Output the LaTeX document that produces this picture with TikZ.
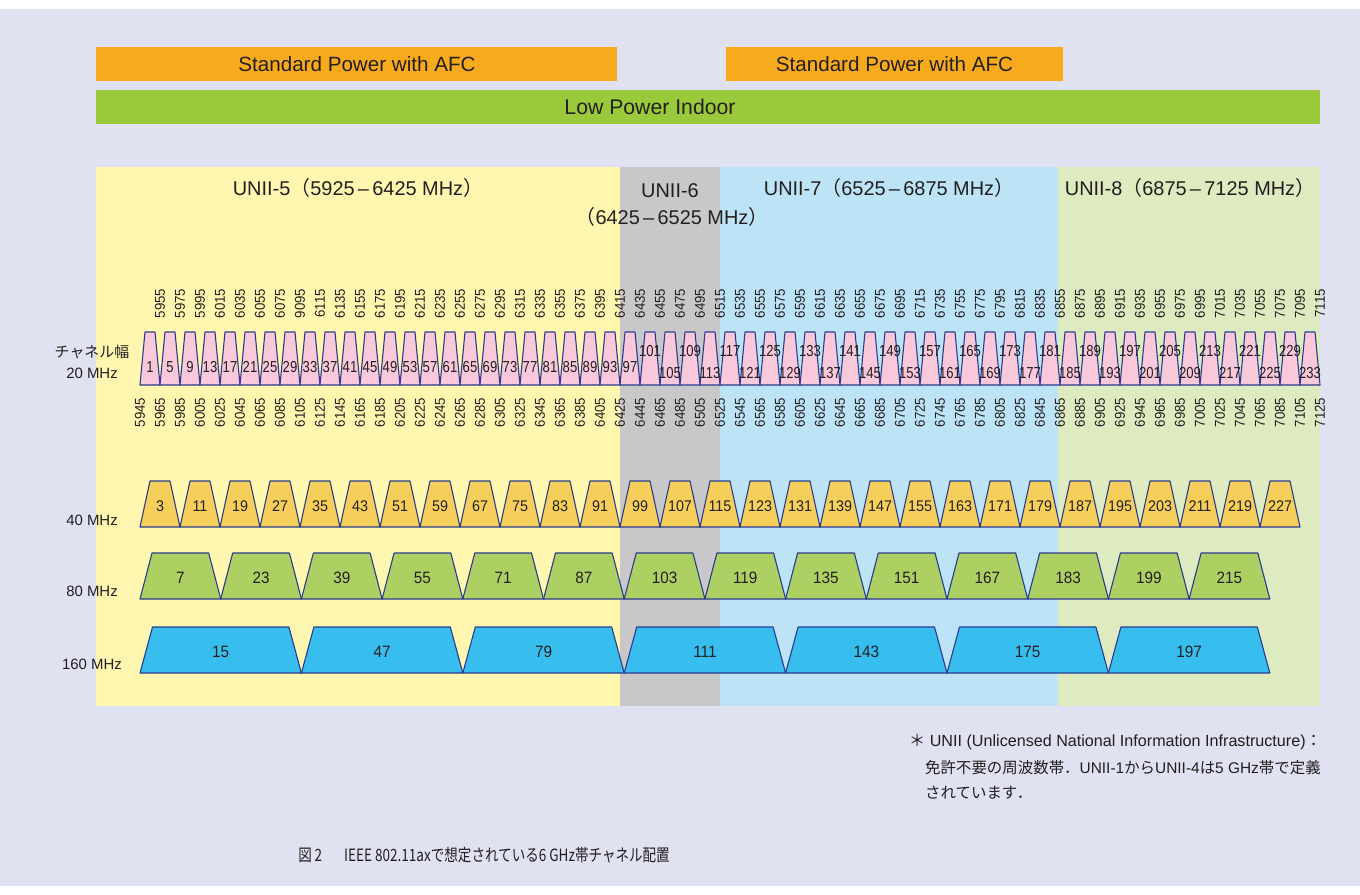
\documentclass[tikz,border=0pt]{standalone}
\usepackage{fontspec}
\setmainfont{Liberation Sans}
\newfontfamily\jp{Noto Sans CJK JP}
\newfontfamily\jpcond[FakeStretch=0.8]{Noto Sans CJK JP}
\newfontfamily\nA[FakeStretch=0.82]{Liberation Sans}
\newfontfamily\nB[FakeStretch=0.93]{Liberation Sans}
\definecolor{lav}{HTML}{E0E1F1}
\definecolor{bandY}{HTML}{FFF7B0}
\definecolor{bandG}{HTML}{C8C8CA}
\definecolor{bandB}{HTML}{BDE3F7}
\definecolor{bandL}{HTML}{DEEAC0}
\definecolor{barO}{HTML}{F8AA1D}
\definecolor{barG}{HTML}{9ACA3C}
\definecolor{outl}{HTML}{2A3B8F}
\definecolor{fPink}{HTML}{F9C8DA}
\definecolor{fYel}{HTML}{F5CF5A}
\definecolor{fGrn}{HTML}{ADD062}
\definecolor{fBlu}{HTML}{38BEEE}
\definecolor{txt}{HTML}{231F20}
\begin{document}
\begin{tikzpicture}[x=1bp,y=-1bp,
  tz/.style={draw=outl,line width=1.1bp,line join=round},
  lbl/.style={inner sep=0,text=txt},
  num20/.style={lbl,font=\nA\fontsize{16}{16}\selectfont},
  freq/.style={lbl,rotate=90,font=\nB\fontsize{14.3}{14.3}\selectfont},
  num40/.style={lbl,font=\nB\fontsize{15.5}{15.5}\selectfont},
  numbig/.style={lbl,font=\nB\fontsize{16.5}{16.5}\selectfont},
  rowlbl/.style={lbl,font=\fontsize{15}{15}\selectfont},
  unii/.style={lbl,font=\fontsize{20}{20}\selectfont},
  bartxt/.style={lbl,font=\fontsize{20.7}{20.7}\selectfont},
  note/.style={lbl,anchor=west,font=\fontsize{15.5}{15.5}\selectfont}]
\useasboundingbox (0,0) rectangle (1360,894);
\fill[white] (0,0) rectangle (1360,894);
\fill[lav] (0,9) rectangle (1360,886);
% power bars
\fill[barO] (96,47) rectangle (617,81);
\fill[barO] (726,47) rectangle (1063,81);
\fill[barG] (96,90) rectangle (1320,124);
\node[bartxt] (sp1) at (357,64) {Standard Power with AFC};
\node[bartxt] (sp2) at (894.5,64) {Standard Power with AFC};
\node[bartxt,font=\fontsize{21.3}{21.3}\selectfont] (lpi) at (650,107) {Low Power Indoor};
% bands
\fill[bandY] (96,167) rectangle (620,706);
\fill[bandG] (620,167) rectangle (720,706);
\fill[bandB] (720,167) rectangle (1058,706);
\fill[bandL] (1058,167) rectangle (1320,706);
\node[unii] (u5) at (358,188) {UNII-5{\jp （}5925{\,}–{\,}6425 MHz{\jp ）}};
\node[unii] (u6a) at (670,191) {UNII-6};
\node[unii] (u6b) at (672,217) {{\jp （}6425{\,}–{\,}6525 MHz{\jp ）}};
\node[unii] (u7) at (889,188) {UNII-7{\jp （}6525{\,}–{\,}6875 MHz{\jp ）}};
\node[unii] (u8) at (1190,188) {UNII-8{\jp （}6875{\,}–{\,}7125 MHz{\jp ）}};
% row labels
\node[rowlbl,font=\jp\fontsize{15}{15}\selectfont] (chw) at (92,352) {チャネル幅};
\node[rowlbl] (r20) at (92,373) {20 MHz};
\node[rowlbl] (r40) at (92,520) {40 MHz};
\node[rowlbl] (r80) at (92,591) {80 MHz};
\node[rowlbl] (r160) at (92,664) {160 MHz};
% 20 MHz channels
\foreach \k in {0,...,58}{
  \pgfmathsetmacro\c{150+20*\k}
  \pgfmathtruncatemacro\n{1+4*\k}
  \draw[tz,fill=fPink] ({\c-10},385) -- ({\c-5},332) -- ({\c+5},332) -- ({\c+10},385) -- cycle;
  \ifnum\k<25
    \node[num20] (c\n) at (\c,367) {\n};
  \else
    \ifodd\k
      \node[num20] (c\n) at (\c,351) {\n};
    \else
      \node[num20] (c\n) at (\c,373) {\n};
    \fi
  \fi
  \pgfmathtruncatemacro\f{5955+20*\k}
  \ifnum\k=7 \def\f{9095}\fi
  \node[freq] (ft\k) at ({\c+10},303.5) {\f};
}
\foreach \k in {0,...,59}{
  \pgfmathtruncatemacro\f{5945+20*\k}
  \node[freq] (fb\k) at ({140+20*\k},412.5) {\f};
}
% 40 MHz channels
\foreach \k in {0,...,28}{
  \pgfmathsetmacro\c{160+40*\k}
  \pgfmathtruncatemacro\n{3+8*\k}
  \draw[tz,fill=fYel] ({\c-20},527) -- ({\c-10},481) -- ({\c+10},481) -- ({\c+20},527) -- cycle;
  \node[num40] (d\n) at (\c,506) {\n};
}
% 80 MHz channels
\foreach \k in {0,...,13}{
  \pgfmathsetmacro\l{140+80.7*\k}
  \pgfmathtruncatemacro\n{7+16*\k}
  \draw[tz,fill=fGrn] (\l,599) -- ({\l+12},553) -- ({\l+68.7},553) -- ({\l+80.7},599) -- cycle;
  \node[numbig] (e\n) at ({\l+40.35},578) {\n};
}
% 160 MHz channels
\foreach \n [count=\i from 0] in {15,47,79,111,143,175,197}{
  \pgfmathsetmacro\l{140+161.4*\i}
  \draw[tz,fill=fBlu] (\l,673) -- ({\l+12.5},627) -- ({\l+148.9},627) -- ({\l+161.4},673) -- cycle;
  \node[numbig] (g\i) at ({\l+80.7},652) {\n};
}
% footnote
\node[note,font=\fontsize{16.2}{16.2}\selectfont] (n1) at (909,742) {{\jp ＊} UNII (Unlicensed National Information Infrastructure){\jp ：}};
\node[note] (n2) at (925,768) {{\jp 免許不要の周波数帯．}UNII-1{\jp から}UNII-4{\jp は}5 GHz{\jp 帯で定義}};
\node[note] (n3) at (925,793) {{\jp されています．}};
% caption
\node[lbl,font=\jpcond\fontsize{17}{17}\selectfont] (cap) at (484,855) {図\,2\hspace{1.3em}IEEE 802.11axで想定されている6 GHz帯チャネル配置};
\end{tikzpicture}
\end{document}
